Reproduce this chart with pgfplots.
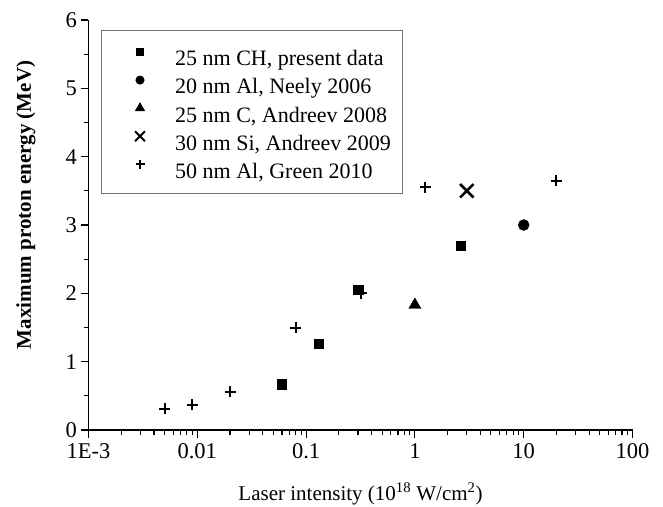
\documentclass[border=0pt]{standalone}
\usepackage{pgfplots}
\pgfplotsset{compat=1.18}
\usepackage{fontspec}
\setmainfont{Liberation Serif}
\begin{document}
\begin{tikzpicture}
\useasboundingbox (-88.5pt,-76pt) rectangle (574.5pt,430pt);
\begin{axis}[
  scale only axis, width=544pt, height=410pt,
  xmode=log, xmin=1e-3, xmax=100, ymin=0, ymax=6,
  axis x line*=bottom, axis y line*=left,
  axis line style={-, line width=1.2pt},
  tick align=outside, major tick length=8pt, minor tick length=5pt,
  every tick/.style={black, line width=1.1pt},
  xtick={0.001,0.01,0.1,1,10,100},
  xticklabels={1E-3,0.01,0.1,1,10,100},
  minor xtick={0.002,0.003,0.004,0.005,0.006,0.007,0.008,0.009,
               0.02,0.03,0.04,0.05,0.06,0.07,0.08,0.09,
               0.2,0.3,0.4,0.5,0.6,0.7,0.8,0.9,
               2,3,4,5,6,7,8,9,20,30,40,50,60,70,80,90},
  ytick={0,1,2,3,4,5,6},
  minor ytick={0.5,1.5,2.5,3.5,4.5,5.5},
  /pgf/number format/assume math mode=true,
  tick label style={font=\fontsize{22.5}{26}\selectfont},
  xticklabel style={yshift=-2pt},
  xlabel={Laser intensity (10\textsuperscript{18} W/cm\textsuperscript{2})},
  ylabel={Maximum proton energy (MeV)},
  every axis x label/.style={at={(axis description cs:0.5,0)}, yshift=-70pt, anchor=base, font=\fontsize{21}{24}\selectfont},
  every axis y label/.style={at={(axis description cs:-0.115,0.549)}, rotate=90, anchor=center, font=\bfseries\fontsize{21}{24}\selectfont},
  clip=false,
  legend cell align=left,
  legend image code/.code={\path (-10pt,-5pt) (36pt,16pt); \draw[#1] plot coordinates {(18pt,7pt)};},
  legend style={at={(axis description cs:0.023,0.9756)}, anchor=north west,
    draw=black!55, line width=1pt, fill=white,
    font=\fontsize{22}{26}\selectfont,
    inner xsep=10pt, inner ysep=12pt, row sep=1.2pt, column sep=14.7pt},
]
\addlegendimage{only marks, mark=square*, mark size=3.5pt, black}
\addlegendentry{25 nm CH, present data}
\addlegendimage{only marks, mark=*, mark size=4pt, black}
\addlegendentry{20 nm Al, Neely 2006}
\addlegendimage{only marks, mark=triangle*, mark size=5pt, black}
\addlegendentry{25 nm C, Andreev 2008}
\addlegendimage{only marks, mark=x, mark size=7pt, black, mark options={line width=2pt}}
\addlegendentry{30 nm Si, Andreev 2009}
\addlegendimage{only marks, mark=+, mark size=4.5pt, black, mark options={line width=1.8pt}}
\addlegendentry{50 nm Al, Green 2010}

\addplot[forget plot, only marks, mark=square*, mark size=4.7pt, black] coordinates {
  (0.06,0.67) (0.13,1.26) (0.3,2.05) (2.65,2.70)};
\addplot[forget plot, only marks, mark=*, mark size=5.5pt, black] coordinates {(10,3.0)};
\addplot[forget plot, only marks, mark=triangle*, mark size=7pt, black] coordinates {(1,1.83)};
\addplot[forget plot, only marks, mark=x, mark size=9.5pt, black, mark options={line width=2.6pt}] coordinates {(3,3.5)};
\addplot[forget plot, only marks, mark=+, mark size=5.5pt, black, mark options={line width=2pt}] coordinates {
  (0.005,0.31) (0.009,0.37) (0.02,0.56) (0.08,1.5) (0.32,2.0) (1.25,3.55) (20,3.65)};
\end{axis}
\end{tikzpicture}
\end{document}
